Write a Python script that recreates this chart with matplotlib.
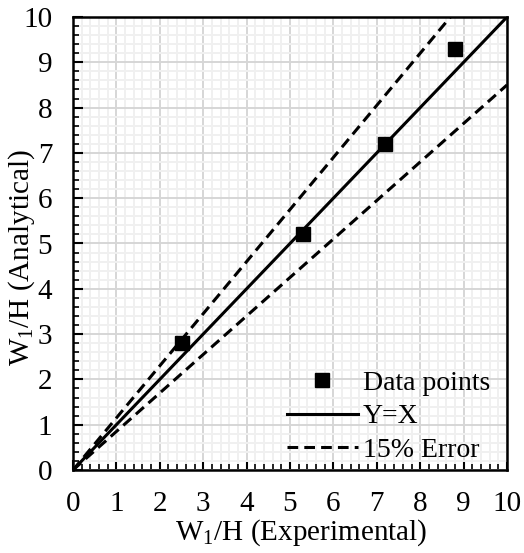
import numpy as np
import matplotlib.pyplot as plt
from matplotlib.ticker import MultipleLocator

plt.rcParams['font.family'] = 'Liberation Serif'
plt.rcParams['mathtext.fontset'] = 'custom'
plt.rcParams['mathtext.rm'] = 'Liberation Serif'

# dane
x_exp = [2.5, 5.3, 7.2, 8.8]
y_ana = [2.8, 5.2, 7.2, 9.3]
line_x = [0, 10]
err = 0.15

fig = plt.figure(figsize=(5.24, 5.53), dpi=100)
ax = fig.add_axes([73/524, 1-470/553, 434/524, 453/553])

ax.set_xlim(0, 10)
ax.set_ylim(0, 10)
ax.xaxis.set_major_locator(MultipleLocator(1))
ax.yaxis.set_major_locator(MultipleLocator(1))
ax.xaxis.set_minor_locator(MultipleLocator(0.2))
ax.yaxis.set_minor_locator(MultipleLocator(0.2))
ax.grid(which='major', color='#d6d6d6', lw=1.4)
ax.grid(which='minor', color='#f0f0f0', lw=1.4)
ax.set_axisbelow(True)

ax.plot(x_exp, y_ana, 's', color='black', ms=10, label='Data points', zorder=4)
ax.plot(line_x, line_x, '-', color='black', lw=2.2, label='Y=X', zorder=3)
lx = np.array(line_x, dtype=float)
ax.plot(lx, lx * (1 + err), '--', color='black', lw=2.2, dashes=(3.5, 2),
        label='15% Error', zorder=3)
ax.plot(lx, lx * (1 - err), '--', color='black', lw=2.2, dashes=(3.5, 2), zorder=3)

for s in ax.spines.values():
    s.set_linewidth(1.8)
ax.tick_params(which='both', direction='in', top=False, right=False)
ax.tick_params(which='major', length=7, width=1.5, labelsize=21)
ax.tick_params(which='minor', length=4, width=1.2)
ax.tick_params(axis='x', which='major', pad=15)
ax.tick_params(axis='y', which='major', pad=15)

# podpisy osi jako tekst figury (Excel-owy układ)
fig.text(301/524, 1-533/553, 'W$_1$/H (Experimental)', fontsize=21,
         ha='center', va='center')
fig.text(22/524, 1-258/553, 'W$_1$/H (Analytical)', fontsize=21,
         ha='center', va='center', rotation=90)

ax.legend(loc='lower right', frameon=False, fontsize=20, handlelength=2.55,
          handletextpad=0.18, labelspacing=0.3, borderaxespad=0,
          borderpad=0, bbox_to_anchor=(0.961, 0.015))

fig.savefig('out.png', dpi=100)
